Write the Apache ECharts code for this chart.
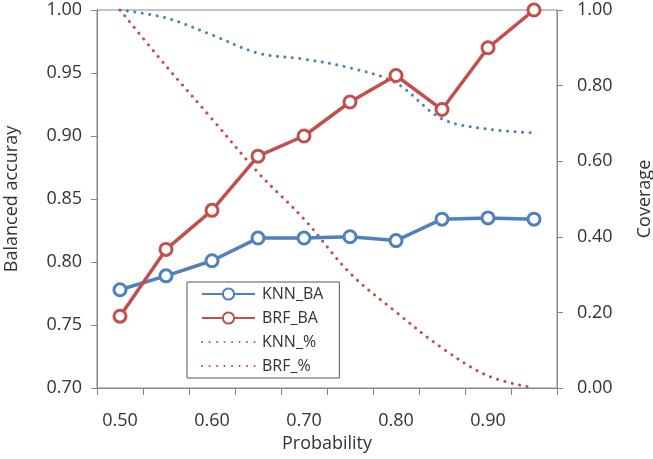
<!DOCTYPE html>
<html>
<head>
<meta charset="utf-8">
<script src="https://cdn.jsdelivr.net/npm/echarts@6/dist/echarts.min.js"></script>
<style>
html,body{margin:0;padding:0;background:#fff;}
#c{width:653px;height:459px;}
</style>
</head>
<body>
<div id="c"></div>
<script>
var categories = ['0.50','0.55','0.60','0.65','0.70','0.75','0.80','0.85','0.90','0.95'];
var knnBA = [0.778,0.789,0.801,0.819,0.819,0.820,0.817,0.834,0.835,0.834];
var brfBA = [0.757,0.810,0.841,0.884,0.900,0.927,0.948,0.921,0.970,1.000];
var knnPct = [1.000,0.979,0.934,0.886,0.870,0.847,0.807,0.712,0.685,0.675];
var brfPct = [1.000,0.852,0.712,0.570,0.447,0.304,0.201,0.106,0.032,0.000];
var leftTicks = {min:0.70, max:1.00, step:0.05};
var rightTicks = {min:0.00, max:1.00, step:0.20};

var BLUE = '#4F81BD', RED = '#C0504D';
var FONT = 'Open Sans';
var TXT = '#333333';
var AX = '#868686';

var chart = echarts.init(document.getElementById('c'), null, {renderer:'canvas'});
function baSeries(name, data, color){
  return {
    name:name, type:'line', data:data, yAxisIndex:0,
    symbol:'circle', symbolSize:12, showSymbol:true,
    lineStyle:{color:color, width:3.5},
    itemStyle:{color:'#ffffff', borderColor:color, borderWidth:3},
    z:3
  };
}
function pctSeries(name, data, color){
  return {
    name:name, type:'line', data:data, yAxisIndex:1,
    symbol:'none', smooth:0.35,
    lineStyle:{color:color, width:3, type:[0.1,7.4], cap:'round'},
    itemStyle:{color:color},
    z:2
  };
}
chart.setOption({
  animation:false,
  textStyle:{fontFamily:FONT},
  grid:{left:97, right:96, top:10, bottom:71, containLabel:false, outerBoundsMode:'none',
        show:true, borderColor:AX, borderWidth:1, backgroundColor:'transparent'},
  legend:{
    orient:'vertical', left:187, top:282,
    padding:[4,16,4,14], itemGap:8, itemWidth:53, itemHeight:14,
    borderColor:'#555', borderWidth:1, backgroundColor:'#fff',
    textStyle:{fontFamily:FONT, fontSize:16, lineHeight:14, color:TXT, padding:[0,0,0,2]},
    data:[
      {name:'KNN_BA'},
      {name:'BRF_BA'},
      {name:'KNN_%', itemStyle:{opacity:0}},
      {name:'BRF_%', itemStyle:{opacity:0}}
    ]
  },
  xAxis:{
    type:'category', data:categories, boundaryGap:true,
    name:'Probability', nameLocation:'middle', nameGap:45,
    nameTextStyle:{fontFamily:FONT, fontSize:18, color:TXT},
    axisLine:{lineStyle:{color:AX}},
    axisTick:{show:true, interval:0, length:7, lineStyle:{color:AX}},
    axisLabel:{interval:1, margin:24, fontFamily:FONT, fontSize:18, color:TXT},
    splitLine:{show:false}
  },
  yAxis:[{
    type:'value', min:leftTicks.min, max:leftTicks.max, interval:leftTicks.step,
    name:'Balanced accuray', nameLocation:'middle', nameGap:76, nameRotate:90,
    nameTextStyle:{fontFamily:FONT, fontSize:18, color:TXT},
    axisLine:{show:true, lineStyle:{color:AX}},
    axisTick:{show:true, length:6, lineStyle:{color:AX}},
    axisLabel:{margin:15, fontFamily:FONT, fontSize:18, color:TXT, formatter:function(v){return v.toFixed(2);}},
    splitLine:{show:false}
  },{
    type:'value', min:rightTicks.min, max:rightTicks.max, interval:rightTicks.step, position:'right',
    name:'Coverage', nameLocation:'middle', nameGap:79, nameRotate:90,
    nameTextStyle:{fontFamily:FONT, fontSize:18, color:TXT},
    axisLine:{show:true, lineStyle:{color:AX}},
    axisTick:{show:true, length:6, lineStyle:{color:AX}},
    axisLabel:{margin:20, fontFamily:FONT, fontSize:18, color:TXT, formatter:function(v){return v.toFixed(2);}},
    splitLine:{show:false}
  }],
  series:[
    baSeries('KNN_BA', knnBA, BLUE),
    baSeries('BRF_BA', brfBA, RED),
    pctSeries('KNN_%', knnPct, BLUE),
    pctSeries('BRF_%', brfPct, RED)
  ]
});
</script>
</body>
</html>
